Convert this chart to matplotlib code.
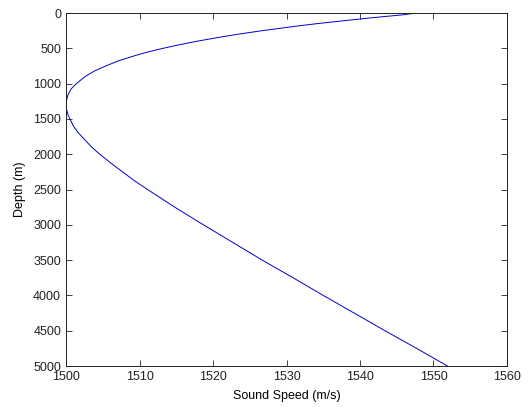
import matplotlib.pyplot as plt

# sound speed profile
depth = [0, 25, 50, 75, 100, 125, 150, 175, 200, 250, 300, 350, 400, 450,
         500, 550, 600, 675, 750, 825, 900, 1000, 1075, 1150, 1225, 1300,
         1375, 1450, 1600, 1700, 1800, 1900, 2000, 2125, 2250, 2375, 2500,
         2750, 3000, 3250, 3500, 3750, 4000, 4250, 4500, 4750, 5000]
speed = [1547.6, 1545.9, 1543.3, 1540.9, 1538.6, 1536.4, 1534.2, 1532.2,
         1530.3, 1526.7, 1523.4, 1520.5, 1517.8, 1515.4, 1513.2, 1511.2,
         1509.5, 1507.2, 1505.4, 1503.8, 1502.6, 1501.4, 1500.7, 1500.3,
         1500.1, 1500.0, 1500.1, 1500.3, 1501.0, 1501.7, 1502.6, 1503.5,
         1504.6, 1506.1, 1507.7, 1509.3, 1511.1, 1514.8, 1518.7, 1522.7,
         1526.7, 1530.9, 1535.0, 1539.2, 1543.4, 1547.7, 1551.9]

plt.rcParams['font.family'] = ['Liberation Sans', 'DejaVu Sans']

fig = plt.figure(figsize=(5.31, 4.07), dpi=100)
ax = fig.add_axes([0.1243, 0.1007, 0.8305, 0.8673])

ax.plot(speed, depth, color='#0000cc', linewidth=0.7)

ax.set_xlim(1500, 1560)
ax.set_ylim(5000, 0)
ax.set_xticks(range(1500, 1561, 10))
ax.set_yticks(range(0, 5001, 500))
ax.tick_params(direction='in', top=True, right=True, labelsize=9,
               length=4, width=0.6, colors='#222222')
for s in ax.spines.values():
    s.set_linewidth(0.7)
    s.set_color('#222222')

ax.set_xlabel('Sound Speed (m/s)', fontsize=9, labelpad=5)
ax.set_ylabel('Depth (m)', fontsize=9, labelpad=5)

fig.savefig('out.png', dpi=100)
